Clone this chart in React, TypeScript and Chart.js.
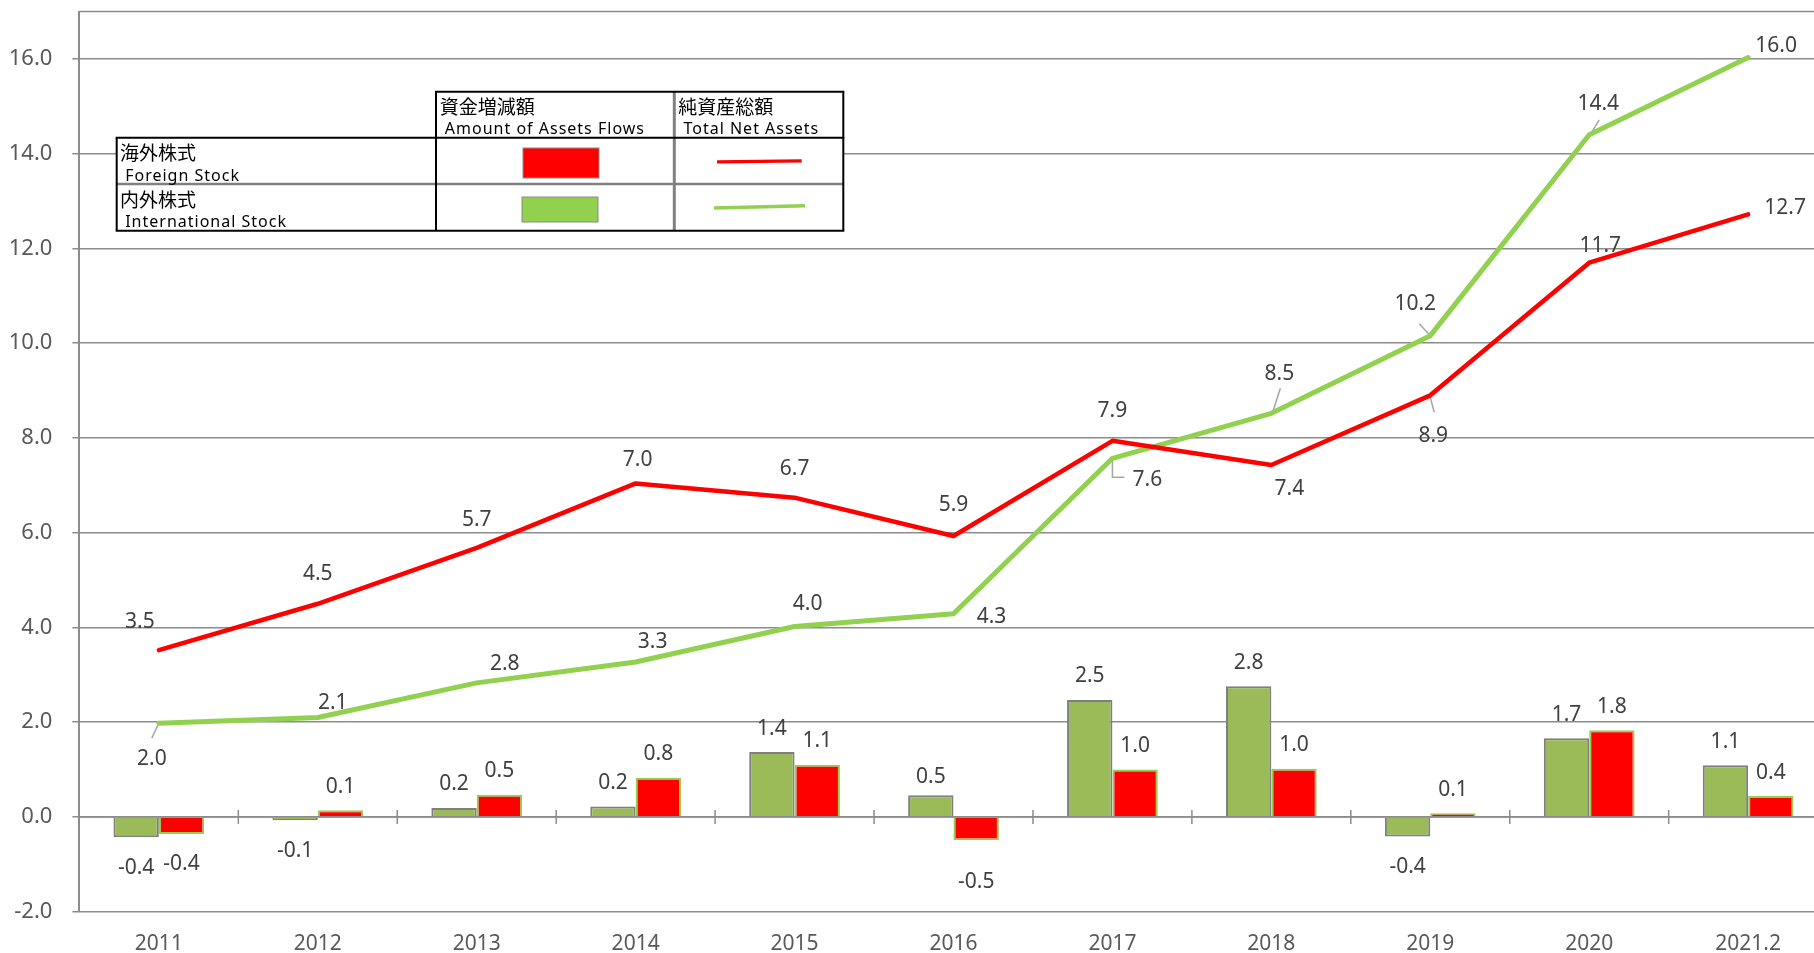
import React, { useEffect, useRef } from 'react';
import { Chart, registerables } from 'chart.js';

Chart.register(...registerables);

// ---------- data ----------
const categories = ['2011', '2012', '2013', '2014', '2015', '2016', '2017', '2018', '2019', '2020', '2021.2'];
// 資金増減額 Amount of Assets Flows
const intlFlows = [-0.43, -0.07, 0.19, 0.22, 1.37, 0.46, 2.47, 2.76, -0.41, 1.66, 1.09];
const foreignFlows = [-0.36, 0.14, 0.47, 0.83, 1.1, -0.49, 1.0, 1.02, 0.08, 1.83, 0.44];
// 純資産総額 Total Net Assets
const foreignNetAssets = [3.52, 4.5, 5.68, 7.04, 6.74, 5.93, 7.94, 7.43, 8.9, 11.7, 12.72];
const intlNetAssets = [1.98, 2.1, 2.83, 3.27, 4.02, 4.29, 7.57, 8.52, 10.16, 14.4, 16.03];
const yTickValues = [-2, 0, 2, 4, 6, 8, 10, 12, 14, 16];

// ---------- label placement (pixel offsets from each point) ----------
const redLineLabelOffsets = [[-19, -31], [0, -32], [0, -30], [2, -26], [0, -31], [0, -34], [0, -32], [18, 22], [3, 38], [11, -19], [37, -9]];
const greenLineLabelOffsets = [[-7, 33], [15, -17], [28, -21], [17, -23], [13, -25], [38, 1], [35, 19], [8, -42], [-15, -34], [9, -33], [28, -14]];
const redLineLeaders: Record<number, number[][]> = { 8: [[0, 2], [4, 17]] };
const greenLineLeaders: Record<number, number[][]> = {
  0: [[-1, 2], [-7, 15]],
  6: [[0, 1], [0, 19], [12, 19]],
  7: [[1, 0], [9, -25]],
  8: [[0, 0], [-11, -12]],
  9: [[1, 0], [10, -15]],
};
const intlBarGapOverrides: Record<number, number> = { 5: 20.5 };
const foreignBarGapOverrides: Record<number, number> = { 5: 39 };
const LABEL_DY = 2.5;

const GRID = '#8C8C8C';
const LABEL_COLOR = '#404040';
const TICK_COLOR = '#595959';

function drawZeroAxis(chart: any) {
  const { ctx, chartArea, scales } = chart;
  const xs = scales.x;
  const ys = scales.y;
  const y0 = ys.getPixelForValue(0);
  ctx.save();
  ctx.strokeStyle = GRID;
  ctx.lineWidth = 1.5;
  ctx.beginPath();
  ctx.moveTo(chartArea.left, y0);
  ctx.lineTo(chartArea.right, y0);
  ctx.stroke();
  const step = xs.getPixelForValue(1) - xs.getPixelForValue(0);
  for (let i = 0; i < categories.length; i++) {
    const bx = xs.getPixelForValue(i) + step / 2;
    ctx.beginPath();
    ctx.moveTo(bx, y0 - 7);
    ctx.lineTo(bx, y0 + 7);
    ctx.stroke();
  }
  ctx.restore();
}

let zeroAxisDrawn = false;

const decorPlugin = {
  id: 'decor',
  beforeDatasetsDraw(chart: any) {
    zeroAxisDrawn = false;
    const { ctx, chartArea } = chart;
    ctx.save();
    ctx.strokeStyle = GRID;
    ctx.lineWidth = 1.5;
    ctx.beginPath();
    ctx.moveTo(chartArea.left, chartArea.top);
    ctx.lineTo(chartArea.right, chartArea.top);
    ctx.stroke();
    // leader lines
    ctx.strokeStyle = '#A6A6A6';
    ctx.lineWidth = 1.5;
    chart.data.datasets.forEach((ds: any, di: number) => {
      if (!ds.leaders) return;
      const meta = chart.getDatasetMeta(di);
      Object.keys(ds.leaders).forEach((k) => {
        const idx = Number(k);
        const el = meta.data[idx];
        const pts = ds.leaders[idx];
        ctx.beginPath();
        pts.forEach((p: number[], j: number) => {
          if (j === 0) ctx.moveTo(el.x + p[0], el.y + p[1]);
          else ctx.lineTo(el.x + p[0], el.y + p[1]);
        });
        ctx.stroke();
      });
    });
    ctx.restore();
  },
  beforeDatasetDraw(chart: any, args: any) {
    // axis line at zero drawn over the bars, before the first line series
    if (!zeroAxisDrawn && args.meta.type === 'line') {
      drawZeroAxis(chart);
      zeroAxisDrawn = true;
    }
  },
  afterDatasetsDraw(chart: any) {
    if (!zeroAxisDrawn) {
      drawZeroAxis(chart);
      zeroAxisDrawn = true;
    }
    const { ctx } = chart;
    ctx.save();
    ctx.font = '21px "Noto Sans"';
    ctx.fillStyle = LABEL_COLOR;
    ctx.textAlign = 'center';
    ctx.textBaseline = 'middle';
    chart.data.datasets.forEach((ds: any, di: number) => {
      const meta = chart.getDatasetMeta(di);
      meta.data.forEach((el: any, i: number) => {
        const v = ds.data[i] as number;
        const text = v.toFixed(1);
        if (ds.type === 'bar') {
          const over = ds.gapOverrides && ds.gapOverrides[i];
          const gap = over !== undefined ? over : v >= 0 ? 26 : 28;
          const ty = v >= 0 ? el.y - gap : el.y + gap;
          ctx.fillText(text, el.x, ty + LABEL_DY);
        } else {
          const off = ds.labelOffsets[i];
          ctx.fillText(text, el.x + off[0], el.y + off[1] + LABEL_DY);
        }
      });
    });
    ctx.restore();
  },
};

const TABLE_BLACK = '#000000';
const TABLE_GRAY = '#808080';

const cjkStyle: React.CSSProperties = {
  position: 'absolute',
  fontFamily: '"Noto Sans CJK JP"',
  fontSize: 19,
  lineHeight: '19px',
  color: '#000',
  whiteSpace: 'pre',
};
const latinStyle: React.CSSProperties = {
  position: 'absolute',
  fontFamily: '"Noto Sans"',
  fontSize: 16,
  lineHeight: '16px',
  letterSpacing: '1px',
  color: '#000',
  whiteSpace: 'pre',
};

export default function App() {
  const canvasRef = useRef<HTMLCanvasElement>(null);

  useEffect(() => {
    const chart = new Chart(canvasRef.current as HTMLCanvasElement, {
      type: 'bar',
      data: {
        labels: categories,
        datasets: [
          {
            type: 'bar',
            label: '内外株式 資金増減額',
            data: intlFlows,
            backgroundColor: '#9BBB59',
            borderColor: '#7F7F7F',
            borderWidth: 2,
            borderSkipped: 'start',
            barPercentage: 1,
            categoryPercentage: 0.571,
            order: 3,
            gapOverrides: intlBarGapOverrides,
          } as any,
          {
            type: 'bar',
            label: '海外株式 資金増減額',
            data: foreignFlows,
            backgroundColor: '#FF0000',
            borderColor: '#92D050',
            borderWidth: 2,
            borderSkipped: 'start',
            barPercentage: 1,
            categoryPercentage: 0.571,
            order: 3,
            gapOverrides: foreignBarGapOverrides,
          } as any,
          {
            type: 'line',
            label: '海外株式 純資産総額',
            data: foreignNetAssets,
            borderColor: '#FF0000',
            backgroundColor: '#FF0000',
            borderWidth: 4.5,
            pointRadius: 0,
            tension: 0,
            borderCapStyle: 'round',
            borderJoinStyle: 'round',
            order: 0,
            labelOffsets: redLineLabelOffsets,
            leaders: redLineLeaders,
          } as any,
          {
            type: 'line',
            label: '内外株式 純資産総額',
            data: intlNetAssets,
            borderColor: '#92D050',
            backgroundColor: '#92D050',
            borderWidth: 5,
            pointRadius: 0,
            tension: 0,
            borderCapStyle: 'round',
            borderJoinStyle: 'round',
            order: 1,
            labelOffsets: greenLineLabelOffsets,
            leaders: greenLineLeaders,
          } as any,
        ],
      },
      options: {
        animation: false,
        responsive: false,
        maintainAspectRatio: false,
        devicePixelRatio: 1,
        layout: { padding: { left: 0, top: 11.6, right: 12.4, bottom: 0 } },
        plugins: { legend: { display: false }, tooltip: { enabled: false } },
        scales: {
          x: {
            type: 'category',
            offset: true,
            grid: { display: false, drawTicks: false },
            border: { display: false },
            ticks: {
              color: TICK_COLOR,
              font: { family: '"Noto Sans"', size: 21 },
              padding: 19.5,
              maxRotation: 0,
              autoSkip: false,
            },
            afterFit: (s: any) => {
              s.height = 41.3;
              s.paddingLeft = 0;
              s.paddingRight = 0;
            },
          },
          y: {
            type: 'linear',
            min: -2,
            max: 17,
            afterBuildTicks: (s: any) => {
              s.ticks = yTickValues.map((v) => ({ value: v }));
            },
            grid: { color: GRID, lineWidth: 1.5, drawTicks: true, tickLength: 7, tickColor: GRID },
            border: { display: true, color: GRID, width: 2 },
            ticks: {
              color: TICK_COLOR,
              font: { family: '"Noto Sans"', size: 22, lineHeight: 1 },
              padding: 20,
              callback: (v: any) => Number(v).toFixed(1),
            },
            afterFit: (s: any) => {
              s.width = 79.4;
              s.paddingTop = 0;
              s.paddingBottom = 0;
            },
          },
        },
      } as any,
      plugins: [decorPlugin],
    });
    return () => chart.destroy();
  }, []);

  return (
    <div
      style={{
        position: 'fixed',
        left: 0,
        top: 0,
        width: 1840,
        height: 953,
        background: '#ffffff',
        overflow: 'hidden',
      }}
    >
      <canvas
        ref={canvasRef}
        width={1840}
        height={953}
        style={{ position: 'absolute', left: 0, top: 0, width: 1840, height: 953 }}
      />
      <svg
        width={1840}
        height={953}
        style={{ position: 'absolute', left: 0, top: 0, pointerEvents: 'none' }}
      >
        <rect x={436} y={91.7} width={407.3} height={46} fill="#fff" />
        <rect x={116.7} y={137.7} width={726.6} height={93} fill="#fff" />
        {/* gray inner lines */}
        <line x1={116.7} y1={184} x2={843.3} y2={184} stroke={TABLE_GRAY} strokeWidth={2.5} />
        <line x1={674.3} y1={91.7} x2={674.3} y2={230.7} stroke={TABLE_GRAY} strokeWidth={3} />
        {/* black lines */}
        <line x1={435} y1={91.7} x2={844.3} y2={91.7} stroke={TABLE_BLACK} strokeWidth={2} />
        <line x1={115.7} y1={137.7} x2={844.3} y2={137.7} stroke={TABLE_BLACK} strokeWidth={2} />
        <line x1={115.7} y1={230.7} x2={844.3} y2={230.7} stroke={TABLE_BLACK} strokeWidth={2} />
        <line x1={116.7} y1={137.7} x2={116.7} y2={230.7} stroke={TABLE_BLACK} strokeWidth={2} />
        <line x1={436} y1={91.7} x2={436} y2={230.7} stroke={TABLE_BLACK} strokeWidth={2} />
        <line x1={843.3} y1={91.7} x2={843.3} y2={230.7} stroke={TABLE_BLACK} strokeWidth={2} />
        {/* swatches */}
        <rect x={523} y={148} width={76} height={30} fill="#FF0000" stroke="#8C8C8C" strokeWidth={1} />
        <rect x={522} y={197} width={76} height={25} fill="#92D050" stroke="#8C8C8C" strokeWidth={1} />
        <line x1={717} y1={161.8} x2={801.7} y2={160.8} stroke="#FF0000" strokeWidth={3.3} />
        <line x1={714} y1={208} x2={805} y2={205.7} stroke="#92D050" strokeWidth={3.5} />
      </svg>
      <div style={{ ...cjkStyle, left: 439.7, top: 95.5 }}>資金増減額</div>
      <div style={{ ...latinStyle, left: 439.7, top: 119.8 }}> Amount of Assets Flows</div>
      <div style={{ ...cjkStyle, left: 678.3, top: 95.5 }}>純資産総額</div>
      <div style={{ ...latinStyle, left: 678.3, top: 119.8 }}> Total Net Assets</div>
      <div style={{ ...cjkStyle, left: 120, top: 142.2 }}>海外株式</div>
      <div style={{ ...latinStyle, left: 120, top: 166.5 }}> Foreign Stock</div>
      <div style={{ ...cjkStyle, left: 120, top: 188.8 }}>内外株式</div>
      <div style={{ ...latinStyle, left: 120, top: 212.5 }}> International Stock</div>
    </div>
  );
}
